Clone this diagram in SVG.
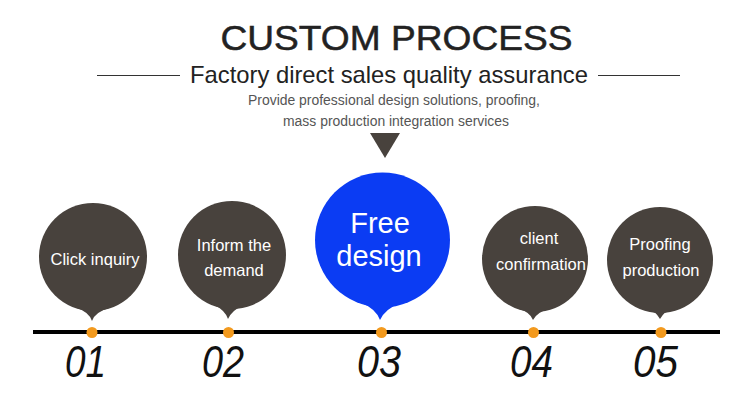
<svg xmlns="http://www.w3.org/2000/svg" width="750" height="417" viewBox="0 0 750 417">
<style>
.t{font-family:"Liberation Sans",Arial,sans-serif}
.title{font-size:35px;fill:#222;stroke:#222;stroke-width:0.5}
.sub{font-size:24px;fill:#222}
.small{font-size:14px;fill:#555}
.bub{fill:#48423d}
.blue{fill:#0b3cf3}
.lbl{font-size:16.5px;fill:#fff;text-anchor:middle}
.big{font-size:29px;fill:#fff;text-anchor:middle}
.num{font-size:44px;font-style:italic;fill:#111}
.dot{fill:#f39a1e}
.rule{stroke:#333;stroke-width:1}
</style>
<rect x="0" y="0" width="750" height="417" fill="#ffffff"/>
<g id="header">
<text class="t title" x="220.5" y="49.5" textLength="352" lengthAdjust="spacingAndGlyphs">CUSTOM PROCESS</text>
<line class="rule" x1="97" y1="75.5" x2="180" y2="75.5"/>
<line class="rule" x1="598" y1="75.5" x2="680" y2="75.5"/>
<text class="t sub" x="190" y="83" textLength="398" lengthAdjust="spacingAndGlyphs">Factory direct sales quality assurance</text>
<text class="t small" x="248" y="105" textLength="292" lengthAdjust="spacingAndGlyphs">Provide professional design solutions, proofing,</text>
<text class="t small" x="283" y="126" textLength="226" lengthAdjust="spacingAndGlyphs">mass production integration services</text>
<polygon points="370,133 400,133 385,158" fill="#48423d"/>
</g>
<g id="connectors">
<rect x="33" y="330" width="687" height="4" fill="#000"/>
</g>
<g id="step1">
<circle class="bub" cx="93" cy="257" r="54"/>
<path class="bub" d="M77,308 Q89,312 92,321 Q95,312 109,308 Z"/>
<circle class="dot" cx="92" cy="332.5" r="5.5"/>
<text class="t lbl" x="95" y="265">Click inquiry</text>
<text class="t num" x="65" y="377" textLength="41" lengthAdjust="spacingAndGlyphs">01</text>
</g>
<g id="step2">
<circle class="bub" cx="232" cy="255" r="54"/>
<path class="bub" d="M214,305 Q225,310 228,319 Q232,310 244,305 Z"/>
<circle class="dot" cx="228.5" cy="332.5" r="5.5"/>
<text class="t lbl" x="234" y="250.5">Inform the</text>
<text class="t lbl" x="234" y="276">demand</text>
<text class="t num" x="202" y="377" textLength="42" lengthAdjust="spacingAndGlyphs">02</text>
</g>
<g id="step3">
<circle class="blue" cx="382.5" cy="240" r="67.5"/>
<path class="blue" d="M362,303 Q376,309 380,320 Q385,309 400,303 Z"/>
<circle class="dot" cx="381.5" cy="332.5" r="5.5"/>
<text class="t big" x="380" y="233">Free</text>
<text class="t big" x="379" y="266">design</text>
<text class="t num" x="357" y="377" textLength="44" lengthAdjust="spacingAndGlyphs">03</text>
</g>
<g id="step4">
<circle class="bub" cx="535" cy="259" r="53"/>
<path class="bub" d="M519,309 Q530,312 533,320 Q537,312 549,309 Z"/>
<circle class="dot" cx="533.5" cy="332.5" r="5.5"/>
<text class="t lbl" x="539" y="243.5">client</text>
<text class="t lbl" x="541" y="269.5">confirmation</text>
<text class="t num" x="510" y="377" textLength="43" lengthAdjust="spacingAndGlyphs">04</text>
</g>
<g id="step5">
<circle class="bub" cx="660" cy="260" r="53"/>
<path class="bub" d="M645,309 Q656,311 660,319 Q664,311 675,309 Z"/>
<circle class="dot" cx="661" cy="332.5" r="5.5"/>
<text class="t lbl" x="660" y="250">Proofing</text>
<text class="t lbl" x="661" y="276">production</text>
<text class="t num" x="633" y="377" textLength="45" lengthAdjust="spacingAndGlyphs">05</text>
</g>
</svg>
